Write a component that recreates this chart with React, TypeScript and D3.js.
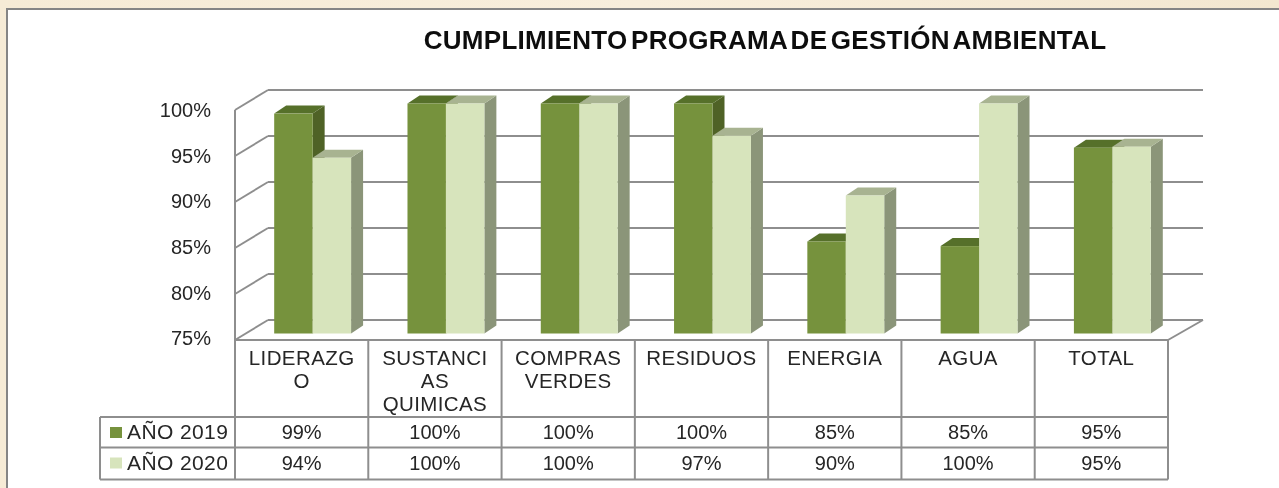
import React from "react";
import * as d3 from "d3";

const categories = ["LIDERAZGO", "SUSTANCIAS QUIMICAS", "COMPRAS VERDES", "RESIDUOS", "ENERGIA", "AGUA", "TOTAL"];
const categoryLines = [["LIDERAZG", "O"], ["SUSTANCI", "AS", "QUIMICAS"], ["COMPRAS", "VERDES"], ["RESIDUOS"], ["ENERGIA"], ["AGUA"], ["TOTAL"]];
const seriesNames = ["AÑO 2019", "AÑO 2020"];
const values2019 = [98.9, 100, 100, 100, 85, 84.5, 95.2];
const values2020 = [94.1, 100, 100, 96.5, 90, 100, 95.3];
const seriesValues = [values2019, values2020];

const frontColors = ["#76923c", "#d7e4bc"];
const topColors = ["#56702b", "#a8b391"];
const sideColors = ["#4f6228", "#8b9579"];
const gridColor = "#8e8e8e";
const textColor = "#262626";
const font = "'Liberation Sans', Arial, sans-serif";

const W = 1279, H = 488;
const left = 235, right = 1168, top = 110, bottom = 340;
const wallLeft = 268, wallRight = 1203, wallDy = -20;
const barDx = 11, barDy = -6.5;
const depthDx = 12, depthDy = -8;
const tableLeft = 100;
const rowY = [340, 417, 447.5, 479.5];

const x = d3.scaleBand<string>().domain(categories).range([left, right]).paddingInner(56.4 / 133.3).paddingOuter(28.2 / 133.3);
const band = d3.scaleBand<string>().domain(categories).range([left, right]);
const inner = d3.scaleBand<string>().domain(seriesNames).range([0, x.bandwidth()]);
const y = d3.scaleLinear().domain([75, 100]).range([bottom, top]);
// the tick labels sit a little tighter than the gridlines in the picture
const yLabel = d3.scaleLinear().domain([75, 100]).range([338, 110]);
const ticks = y.ticks(5);
const pct = (v: number) => `${Math.round(v)}%`;
const poly = (pts: number[][]) => pts.map(p => p.join(",")).join(" ");

export default function App() {
  const gridLine = { stroke: gridColor, strokeWidth: 2, fill: "none" };
  return (
    <svg width={W} height={H} style={{ position: "absolute", left: 0, top: 0 }}>
      <defs>
        <filter id="soft" x="-2%" y="-2%" width="104%" height="104%">
          <feGaussianBlur stdDeviation="0.55" />
        </filter>
        <linearGradient id="paper" x1="0" x2="1" y1="0" y2="0">
          <stop offset="0" stopColor="#f6ebd6" />
          <stop offset="0.5" stopColor="#f8eedc" />
          <stop offset="1" stopColor="#f3e7d0" />
        </linearGradient>
      </defs>
      <rect width={W} height={H} fill="url(#paper)" />
      <g filter="url(#soft)">
        <rect x={7} y={9} width={W} height={H} fill="#fff" stroke="#858585" strokeWidth={2} />

        <text x={765} y={49} textAnchor="middle" fontFamily={font} fontWeight="bold" fontSize={26} letterSpacing={0.3} wordSpacing={-4} fill="#111">
          CUMPLIMIENTO PROGRAMA DE GESTIÓN AMBIENTAL
        </text>

        {/* 3d walls: gridlines on the back and side, then the floor */}
        {ticks.map(t => (
          <g key={t}>
            <line x1={left} x2={wallLeft} y1={y(t)} y2={y(t) + wallDy} {...gridLine} />
            <line x1={wallLeft} x2={wallRight} y1={y(t) + wallDy} y2={y(t) + wallDy} {...gridLine} />
            <text x={211} y={yLabel(t)} dy="0.36em" textAnchor="end" fontFamily={font} fontSize={20} fill={textColor}>{t}%</text>
          </g>
        ))}
        <line x1={left} x2={left} y1={y(100)} y2={y(75)} {...gridLine} />
        <line x1={right} x2={wallRight} y1={y(75)} y2={y(75) + wallDy} {...gridLine} />

        {categories.map((c, i) => (
          <g key={c}>
            {seriesNames.map((s, k) => {
              const v = seriesValues[k][i];
              const x0 = x(c)! + inner(s)! + barDx;
              const x1 = x0 + inner.bandwidth();
              const yTop = y(v) + barDy;
              const yBase = y(75) + barDy;
              return (
                <g key={s}>
                  <polygon fill={sideColors[k]} points={poly([[x1, yTop], [x1 + depthDx, yTop + depthDy], [x1 + depthDx, yBase + depthDy], [x1, yBase]])} />
                  <polygon fill={topColors[k]} points={poly([[x0, yTop], [x0 + depthDx, yTop + depthDy], [x1 + depthDx, yTop + depthDy], [x1, yTop]])} />
                  <rect x={x0} y={yTop} width={inner.bandwidth()} height={yBase - yTop} fill={frontColors[k]} />
                </g>
              );
            })}
          </g>
        ))}

        {/* data table under the plot */}
        {rowY.map((ry, r) => (
          <line key={r} x1={r === 0 ? left : tableLeft} x2={right} y1={ry} y2={ry} {...gridLine} />
        ))}
        <line x1={tableLeft} x2={tableLeft} y1={rowY[1]} y2={rowY[3]} {...gridLine} />
        {[...categories.map(c => band(c)!), right].map((vx, i) => (
          <line key={i} x1={vx} x2={vx} y1={rowY[0]} y2={rowY[3]} {...gridLine} />
        ))}

        {seriesNames.map((s, k) => (
          <g key={s}>
            <rect x={110} y={rowY[k + 1] + 10} width={12} height={11} fill={frontColors[k]} />
            <text x={127} y={rowY[k + 1] + 22} fontFamily={font} fontSize={21} letterSpacing={0.4} fill={textColor}>{s}</text>
          </g>
        ))}

        {categories.map((c, i) => {
          const cx = band(c)! + band.bandwidth() / 2;
          return (
            <g key={c} fontFamily={font} fill={textColor} textAnchor="middle">
              {categoryLines[i].map((l, j) => (
                <text key={j} x={cx} y={365 + j * 23.2} fontSize={20.5} letterSpacing={0.4}>{l}</text>
              ))}
              {seriesValues.map((vals, k) => (
                <text key={k} x={cx} y={rowY[k + 1] + 22} fontSize={20}>{pct(vals[i])}</text>
              ))}
            </g>
          );
        })}
      </g>
    </svg>
  );
}
